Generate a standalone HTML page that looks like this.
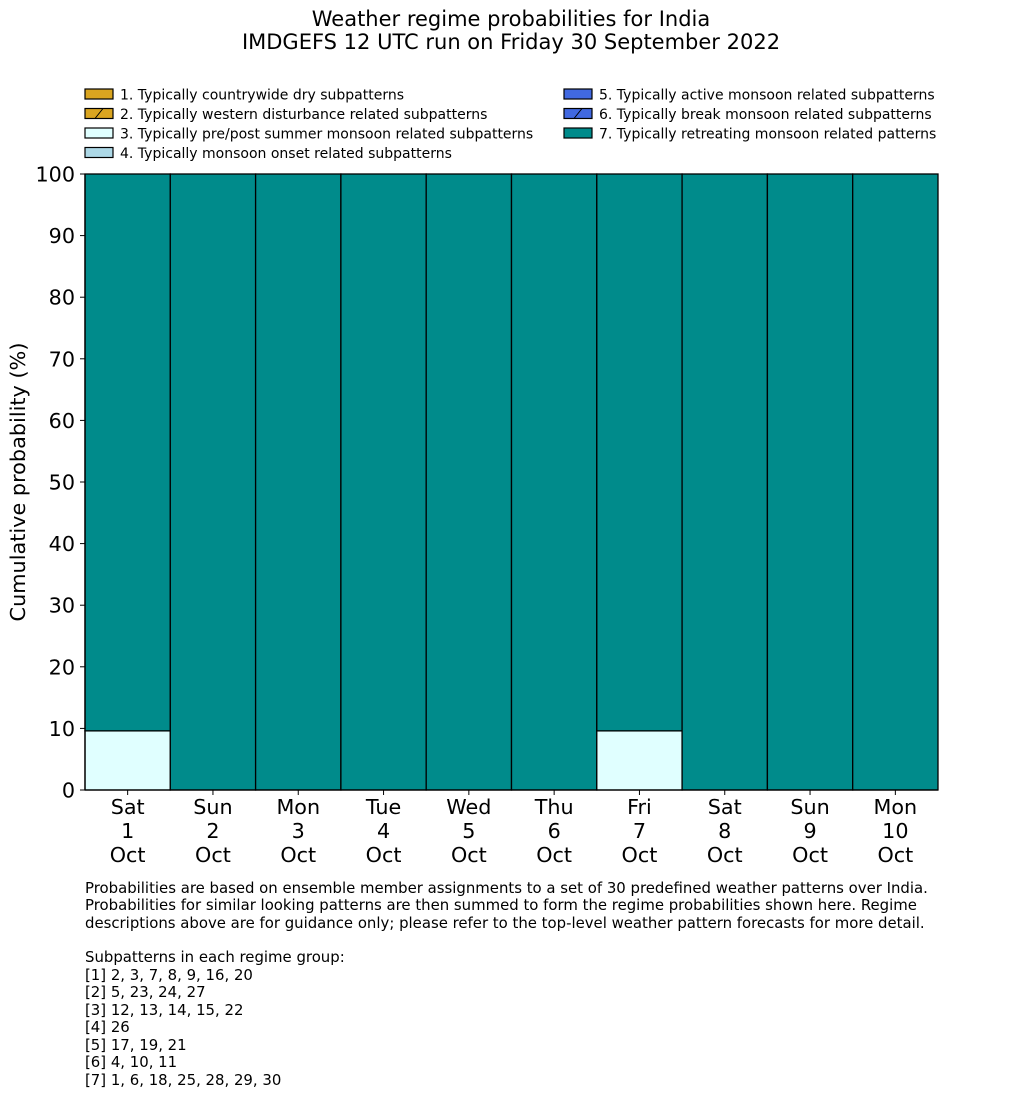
<!DOCTYPE html>
<html><head><meta charset="utf-8"><style>
body{margin:0;background:#fff;width:1033px;height:1114px;overflow:hidden;font-family:"DejaVu Sans","Liberation Sans",sans-serif;}
</style></head><body>
<svg width="1033" height="1114" xmlns="http://www.w3.org/2000/svg" font-family="DejaVu Sans, Liberation Sans, sans-serif">
<defs>
<pattern id="hatch" patternUnits="userSpaceOnUse" width="14" height="14"><path d="M-2,16 L16,-2" stroke="#000" stroke-width="1"/></pattern>
</defs>
<text x="511" y="26" text-anchor="middle" font-size="21">Weather regime probabilities for India</text>
<text x="511" y="49" text-anchor="middle" font-size="21">IMDGEFS 12 UTC run on Friday 30 September 2022</text>
<g id="legend"></g>
<g id="bars"></g>
<g id="axes"></g>
<text transform="translate(25,482) rotate(-90)" text-anchor="middle" font-size="20.8">Cumulative probability (%)</text>
<g font-size="14.9">
<text x="85" y="893">Probabilities are based on ensemble member assignments to a set of 30 predefined weather patterns over India.</text>
<text x="85" y="910">Probabilities for similar looking patterns are then summed to form the regime probabilities shown here. Regime</text>
<text x="85" y="928">descriptions above are for guidance only; please refer to the top-level weather pattern forecasts for more detail.</text>
<text x="85" y="962">Subpatterns in each regime group:</text>
<text x="85" y="980">[1] 2, 3, 7, 8, 9, 16, 20</text>
<text x="85" y="997">[2] 5, 23, 24, 27</text>
<text x="85" y="1015">[3] 12, 13, 14, 15, 22</text>
<text x="85" y="1032">[4] 26</text>
<text x="85" y="1050">[5] 17, 19, 21</text>
<text x="85" y="1067">[6] 4, 10, 11</text>
<text x="85" y="1085">[7] 1, 6, 18, 25, 28, 29, 30</text>
</g>
</svg>
<script>
const days=["Sat","Sun","Mon","Tue","Wed","Thu","Fri","Sat","Sun","Mon"];
const dates=["1","2","3","4","5","6","7","8","9","10"];
const regimeNames=["1. Typically countrywide dry subpatterns","2. Typically western disturbance related subpatterns","3. Typically pre/post summer monsoon related subpatterns","4. Typically monsoon onset related subpatterns","5. Typically active monsoon related subpatterns","6. Typically break monsoon related subpatterns","7. Typically retreating monsoon related patterns"];
const regimeColors=["#DAA520","#DAA520","#E0FFFF","#ADD8E6","#4169E1","#4169E1","#008B8B"];
const regimeHatch=[false,true,false,false,false,true,false];
const r1=[0,0,0,0,0,0,0,0,0,0];
const r2=[0,0,0,0,0,0,0,0,0,0];
const r3=[9.6,0,0,0,0,0,9.6,0,0,0];
const r4=[0,0,0,0,0,0,0,0,0,0];
const r5=[0,0,0,0,0,0,0,0,0,0];
const r6=[0,0,0,0,0,0,0,0,0,0];
const r7=[90.4,100,100,100,100,100,90.4,100,100,100];
const yTicks=[0,10,20,30,40,50,60,70,80,90,100];
const NS="http://www.w3.org/2000/svg";
const X0=85,X1=938,Y0=790,Y1=174;
const bw=(X1-X0)/days.length;
const xs=i=>X0+i*bw;
const ys=v=>Y0-(v/100)*(Y0-Y1);
function mk(t,a,p){const e=document.createElementNS(NS,t);for(const k in a)e.setAttribute(k,a[k]);p.appendChild(e);return e;}
const bars=document.getElementById('bars');
const series=[r1,r2,r3,r4,r5,r6,r7];
for(let i=0;i<days.length;i++){
  let cum=0;
  for(let s=0;s<series.length;s++){
    const v=series[s][i]; if(v<=0) continue;
    const r=mk('rect',{x:xs(i),y:ys(cum+v),width:bw,height:ys(cum)-ys(cum+v),fill:regimeColors[s],stroke:'#000','stroke-width':1.3},bars);
    
    
    if(regimeHatch[s]) mk('rect',{x:xs(i),y:ys(cum+v),width:bw,height:ys(cum)-ys(cum+v),fill:'url(#hatch)'},bars);
    cum+=v;
  }
}
const ax=document.getElementById('axes');
const yl=mk('line',{x1:X0,y1:Y1,x2:X0,y2:Y0,stroke:'#000','stroke-width':1.3},ax);


const xl=mk('line',{x1:X0,y1:Y0,x2:X1,y2:Y0,stroke:'#000','stroke-width':1.3},ax);


yTicks.forEach(t=>{
  mk('line',{x1:X0-5,y1:ys(t),x2:X0,y2:ys(t),stroke:'#000','stroke-width':1},ax);
  const tx=mk('text',{x:X0-10,y:ys(t)+7.5,'text-anchor':'end','font-size':20.7},ax);
  tx.textContent=t;
  
  
});
days.forEach((d,i)=>{
  const cx=xs(i)+bw/2;
  mk('line',{x1:cx,y1:Y0,x2:cx,y2:Y0+5,stroke:'#000','stroke-width':1},ax);
  [d,dates[i],"Oct"].forEach((s,k)=>{
    const tx=mk('text',{x:cx,y:814+k*24,'text-anchor':'middle','font-size':20.7},ax);
    tx.textContent=s;
    
    
  });
});
const lg=document.getElementById('legend');
regimeNames.forEach((n,i)=>{
  const col=i<4?0:1,row=i<4?i:i-4;
  const x=col?564:85,y=89+row*19.5;
  const g=mk('g',{},lg);
  
  
  mk('rect',{x:x,y:y,width:28,height:10,fill:regimeColors[i],stroke:'#000','stroke-width':1.2},g);
  if(regimeHatch[i]) mk('line',{x1:x+10,y1:y+10,x2:x+18,y2:y,stroke:'#000','stroke-width':1},g);
  const t=mk('text',{x:x+35,y:y+10.5,'font-size':14},g);
  t.textContent=n;
});
</script>
</body></html>
